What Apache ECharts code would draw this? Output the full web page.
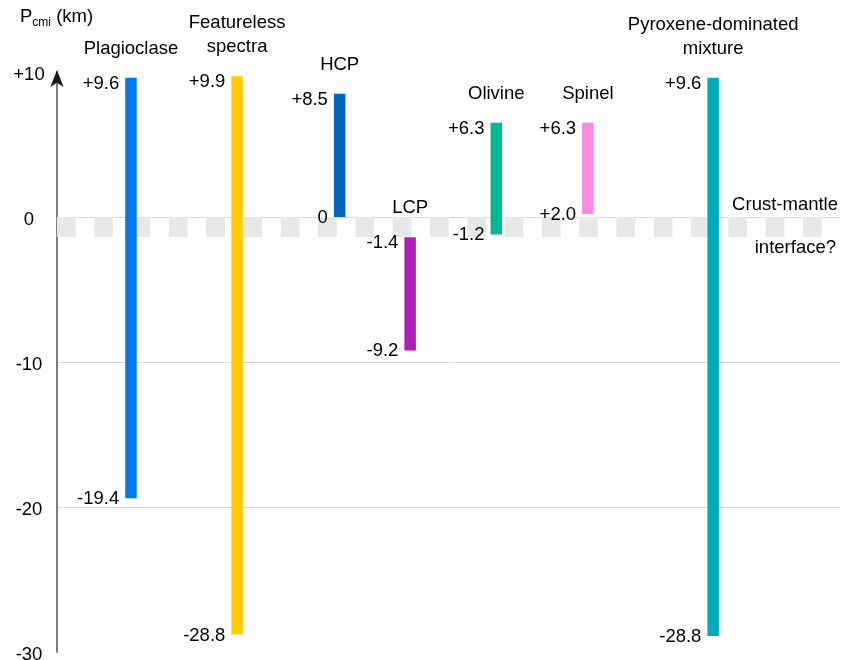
<!DOCTYPE html>
<html>
<head>
<meta charset="utf-8">
<script src="https://cdn.jsdelivr.net/npm/echarts@6/dist/echarts.min.js"></script>
<style>
  html, body { margin: 0; padding: 0; background: #fff; }
  #chart { width: 843px; height: 660px; }
</style>
</head>
<body>
<div id="chart"></div>
<script>
// column names, drawn depth range (km) and the values printed beside each end
const minerals = ['Plagioclase', 'Featureless\nspectra', 'HCP', 'LCP', 'Olivine', 'Spinel', 'Pyroxene-dominated\nmixture'];
const depthTop = [9.6, 9.7, 8.5, -1.4, 6.5, 6.5, 9.6];
const depthBottom = [-19.4, -28.8, 0, -9.2, -1.2, 0.2, -28.9];
const topText = ['+9.6', '+9.9', '+8.5', '-1.4', '+6.3', '+6.3', '+9.6'];
const bottomText = ['-19.4', '-28.8', '0', '-9.2', '-1.2', '+2.0', '-28.8'];
const yTicks = [-30, -20, -10, 0, 10];

// layout: horizontal slot of each column (0..100 across the plot) and colours
const columnPos = [9.45, 23.0, 36.1, 45.1, 56.1, 67.8, 83.8];
const barColors = ['#0078ea', '#ffcc00', '#0066bd', '#b01eb8', '#00b894', '#ff88e2', '#00abba'];

const FONT = "'Liberation Sans', Arial, sans-serif";
const FS = 18.5;

const chart = echarts.init(document.getElementById('chart'));

function renderColumn(params, api) {
  const i = api.value(3);
  const top = api.coord([api.value(0), api.value(2)]);
  const bottom = api.coord([api.value(0), api.value(1)]);
  const w = 11.5;
  const x0 = top[0] - w / 2;
  const txt = { fill: '#000', fontFamily: FONT, fontSize: FS };
  return {
    type: 'group',
    children: [
      { type: 'rect', shape: { x: x0, y: top[1], width: w, height: bottom[1] - top[1] }, style: { fill: barColors[i] } },
      { type: 'text', style: Object.assign({ text: minerals[i], x: top[0], y: top[1] - 17, align: 'center', verticalAlign: 'bottom', lineHeight: 24 }, txt) },
      { type: 'text', style: Object.assign({ text: topText[i], x: x0 - 6, y: top[1] + 6, align: 'right', verticalAlign: 'middle' }, txt) },
      { type: 'text', style: Object.assign({ text: bottomText[i], x: x0 - 6, y: bottom[1] + 1, align: 'right', verticalAlign: 'middle' }, txt) }
    ]
  };
}

const axisBase = {
  type: 'value',
  min: yTicks[0],
  max: yTicks[yTicks.length - 1],
  interval: 10,
  axisTick: { show: false }
};

const option = {
  backgroundColor: '#fff',
  animation: false,
  grid: { left: 57, right: 3, top: 72, bottom: 8, outerBoundsMode: 'none' },
  xAxis: { type: 'value', min: 0, max: 100, show: false },
  yAxis: [
    Object.assign({}, axisBase, {
      axisLine: { show: true, lineStyle: { color: '#7f7f7f', width: 2 } },
      axisLabel: {
        align: 'center',
        margin: 28,
        formatter: v => '{v|' + (v > 0 ? '+' + v : String(v)) + '}',
        rich: {
          v: { color: '#000', fontFamily: FONT, fontSize: FS, padding: [5, 0, 0, 0] }
        }
      },
      splitLine: { show: true, showMinLine: false, showMaxLine: false, lineStyle: { color: '#d9d9d9', width: 1 } }
    }),
    // second copy of the axis only to draw the dark arrow head
    Object.assign({}, axisBase, {
      position: 'left',
      axisLine: {
        show: true,
        symbol: ['none', 'arrow'],
        symbolSize: [10, 17],
        symbolOffset: [0, 2],
        lineStyle: { color: '#1a1a1a', width: 0.01 }
      },
      axisLabel: { show: false },
      splitLine: { show: false }
    })
  ],
  graphic: [
    {
      type: 'text', left: 20, top: 7,
      style: {
        text: '{p|P}{s|cmi}{p| (km)}',
        fill: '#000',
        rich: {
          p: { fontFamily: FONT, fontSize: FS, lineHeight: 24 },
          s: { fontFamily: FONT, fontSize: 12, lineHeight: 24, verticalAlign: 'bottom', padding: [6, 0, 0, 0] }
        }
      }
    },
    { type: 'text', right: 5, top: 195, style: { text: 'Crust-mantle', fill: '#000', fontFamily: FONT, fontSize: FS } },
    { type: 'text', right: 7, top: 238, style: { text: 'interface?', fill: '#000', fontFamily: FONT, fontSize: FS } }
  ],
  series: [
    {
      type: 'custom',
      z: 3,
      renderItem: renderColumn,
      encode: { x: 0, y: [1, 2] },
      data: minerals.map((m, i) => [columnPos[i], depthBottom[i], depthTop[i], i]),
      markLine: {
        z: 1,
        silent: true,
        symbol: 'none',
        label: { show: false },
        lineStyle: { color: '#e8e8e8', width: 20, type: [18.7, 18.6], cap: 'butt' },
        data: [{ yAxis: -0.69 }]
      }
    }
  ]
};

chart.setOption(option);
</script>
</body>
</html>
